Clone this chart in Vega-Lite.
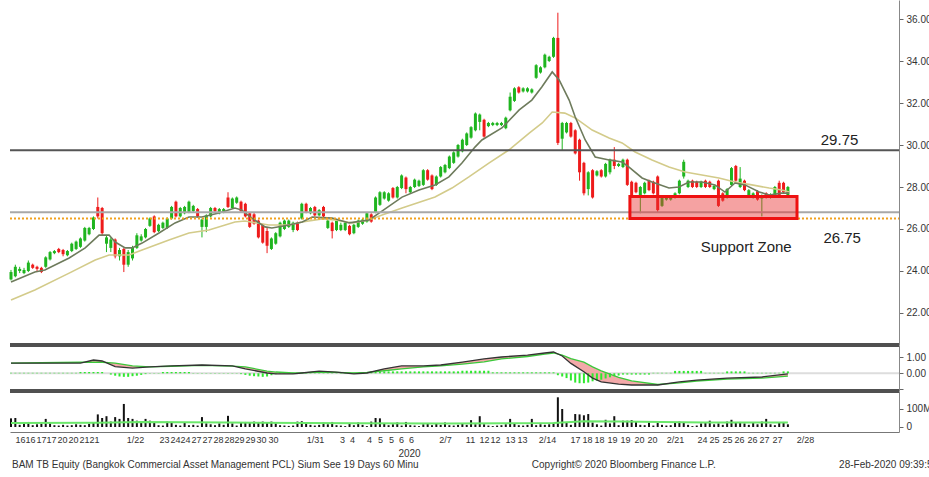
{
"$schema": "https://vega.github.io/schema/vega-lite/v6.json",
"padding": {"left": 6, "top": 0, "right": 0, "bottom": 0},
"background": "white",
"spacing": 26,
"bounds": "flush",
"config": {"view": {"stroke": null}, "axis": {"grid": false, "labelFont": "Liberation Sans", "titleFont": "Liberation Sans", "labelColor": "#333", "domainColor": "#888", "tickColor": "#666"}, "text": {"font": "Liberation Sans"}},
"resolve": {"scale": {"x": "independent", "y": "independent"}},
"datasets": {
"candles": [
{"i":0,"o":23.6,"h":24.05,"l":23.55,"c":23.95,"v":48,"mh":0.03},
{"i":1,"o":23.75,"h":24.3,"l":23.7,"c":24.2,"v":50,"mh":0.03},
{"i":2,"o":24.0,"h":24.2,"l":23.9,"c":24.1,"v":12,"mh":0.03},
{"i":3,"o":23.9,"h":24.15,"l":23.85,"c":24.05,"v":20,"mh":0.03},
{"i":4,"o":24.0,"h":24.5,"l":23.95,"c":24.4,"v":28,"mh":0.03},
{"i":5,"o":24.3,"h":24.35,"l":24.1,"c":24.15,"v":10,"mh":0.03},
{"i":6,"o":24.2,"h":24.25,"l":24.0,"c":24.1,"v":15,"mh":0.03},
{"i":7,"o":24.15,"h":24.2,"l":23.9,"c":23.95,"v":18,"mh":0.03},
{"i":8,"o":24.2,"h":24.7,"l":24.15,"c":24.65,"v":45,"mh":0.03},
{"i":9,"o":24.55,"h":24.95,"l":24.5,"c":24.9,"v":20,"mh":0.03},
{"i":10,"o":24.85,"h":25.0,"l":24.8,"c":24.95,"v":10,"mh":0.03},
{"i":11,"o":25.05,"h":25.1,"l":24.85,"c":24.9,"v":8,"mh":0.03},
{"i":12,"o":25.0,"h":25.05,"l":24.7,"c":24.8,"v":12,"mh":0.03},
{"i":13,"o":24.75,"h":25.0,"l":24.7,"c":24.95,"v":8,"mh":0.03},
{"i":14,"o":24.95,"h":25.35,"l":24.9,"c":25.3,"v":10,"mh":0.03},
{"i":15,"o":25.05,"h":25.45,"l":25.0,"c":25.4,"v":15,"mh":0.03},
{"i":16,"o":25.15,"h":25.6,"l":25.1,"c":25.55,"v":12,"mh":0.08},
{"i":17,"o":25.45,"h":26.1,"l":25.4,"c":26.05,"v":10,"mh":0.08},
{"i":18,"o":25.75,"h":26.1,"l":25.7,"c":26.05,"v":18,"mh":0.08},
{"i":19,"o":26.0,"h":26.6,"l":25.95,"c":26.55,"v":25,"mh":0.08},
{"i":20,"o":27.05,"h":27.5,"l":26.5,"c":26.6,"v":70,"mh":0.08},
{"i":21,"o":27.0,"h":27.05,"l":25.7,"c":25.8,"v":50,"mh":0.08},
{"i":22,"o":25.3,"h":25.7,"l":24.9,"c":25.6,"v":60,"mh":0.0},
{"i":23,"o":25.1,"h":25.6,"l":24.9,"c":25.5,"v":30,"mh":-0.08},
{"i":24,"o":25.5,"h":25.55,"l":24.6,"c":24.7,"v":55,"mh":-0.15},
{"i":25,"o":24.7,"h":25.1,"l":24.5,"c":25.0,"v":45,"mh":-0.2},
{"i":26,"o":25.05,"h":25.1,"l":23.95,"c":24.3,"v":128,"mh":-0.22},
{"i":27,"o":24.3,"h":25.0,"l":24.2,"c":24.9,"v":50,"mh":-0.22},
{"i":28,"o":24.6,"h":25.2,"l":24.5,"c":25.1,"v":45,"mh":-0.18},
{"i":29,"o":25.1,"h":25.8,"l":25.05,"c":25.7,"v":35,"mh":-0.15},
{"i":30,"o":25.45,"h":25.75,"l":25.4,"c":25.65,"v":25,"mh":-0.1},
{"i":31,"o":25.6,"h":26.05,"l":25.55,"c":26.0,"v":45,"mh":-0.05},
{"i":32,"o":26.15,"h":26.55,"l":26.1,"c":26.5,"v":35,"mh":0.02},
{"i":33,"o":26.6,"h":26.65,"l":25.8,"c":25.85,"v":25,"mh":0.02},
{"i":34,"o":25.9,"h":26.25,"l":25.85,"c":26.2,"v":10,"mh":0.02},
{"i":35,"o":26.05,"h":26.35,"l":26.0,"c":26.3,"v":8,"mh":0.08},
{"i":36,"o":26.05,"h":26.55,"l":26.0,"c":26.5,"v":30,"mh":0.08},
{"i":37,"o":26.5,"h":27.1,"l":26.45,"c":27.05,"v":28,"mh":0.08},
{"i":38,"o":27.3,"h":27.35,"l":26.55,"c":26.6,"v":12,"mh":0.08},
{"i":39,"o":26.6,"h":27.05,"l":26.55,"c":27.0,"v":8,"mh":0.08},
{"i":40,"o":26.75,"h":27.1,"l":26.7,"c":27.05,"v":25,"mh":0.08},
{"i":41,"o":26.8,"h":27.35,"l":26.75,"c":27.3,"v":10,"mh":0.08},
{"i":42,"o":26.85,"h":27.15,"l":26.8,"c":27.1,"v":12,"mh":0.02},
{"i":43,"o":26.95,"h":27.0,"l":26.55,"c":26.6,"v":8,"mh":0.02},
{"i":44,"o":26.1,"h":26.5,"l":25.6,"c":26.45,"v":55,"mh":0.02},
{"i":45,"o":26.1,"h":26.7,"l":25.85,"c":26.65,"v":20,"mh":0.02},
{"i":46,"o":26.6,"h":27.05,"l":26.55,"c":27.0,"v":15,"mh":0.02},
{"i":47,"o":27.0,"h":27.05,"l":26.8,"c":26.85,"v":10,"mh":0.02},
{"i":48,"o":26.75,"h":27.0,"l":26.7,"c":26.95,"v":20,"mh":0.02},
{"i":49,"o":26.8,"h":27.0,"l":26.75,"c":26.95,"v":12,"mh":0.02},
{"i":50,"o":27.5,"h":27.75,"l":27.0,"c":27.05,"v":62,"mh":0.02},
{"i":51,"o":27.0,"h":27.5,"l":26.95,"c":27.45,"v":20,"mh":0.02},
{"i":52,"o":27.25,"h":27.55,"l":27.2,"c":27.5,"v":8,"mh":0.02},
{"i":53,"o":27.3,"h":27.35,"l":26.8,"c":26.85,"v":25,"mh":-0.05},
{"i":54,"o":27.2,"h":27.25,"l":26.55,"c":26.6,"v":28,"mh":-0.1},
{"i":55,"o":26.75,"h":26.8,"l":26.05,"c":26.1,"v":25,"mh":-0.15},
{"i":56,"o":26.7,"h":26.8,"l":26.2,"c":26.25,"v":30,"mh":-0.18},
{"i":57,"o":26.4,"h":26.45,"l":25.55,"c":25.6,"v":28,"mh":-0.2},
{"i":58,"o":26.2,"h":26.25,"l":25.3,"c":25.35,"v":30,"mh":-0.22},
{"i":59,"o":25.9,"h":26.1,"l":24.85,"c":25.2,"v":25,"mh":-0.2},
{"i":60,"o":25.05,"h":25.6,"l":25.0,"c":25.55,"v":30,"mh":-0.12},
{"i":61,"o":25.3,"h":25.85,"l":25.25,"c":25.8,"v":20,"mh":-0.05},
{"i":62,"o":25.65,"h":26.35,"l":25.6,"c":26.3,"v":10,"mh":0.03},
{"i":63,"o":26.0,"h":26.45,"l":25.95,"c":26.4,"v":8,"mh":0.03},
{"i":64,"o":26.1,"h":26.45,"l":26.05,"c":26.4,"v":6,"mh":0.03},
{"i":65,"o":25.95,"h":26.35,"l":25.85,"c":26.3,"v":8,"mh":0.03},
{"i":66,"o":26.3,"h":26.35,"l":25.9,"c":25.95,"v":30,"mh":0.03},
{"i":67,"o":26.5,"h":27.25,"l":26.45,"c":27.2,"v":32,"mh":0.03},
{"i":68,"o":27.2,"h":27.25,"l":26.75,"c":26.8,"v":25,"mh":0.03},
{"i":69,"o":26.75,"h":27.05,"l":26.7,"c":27.0,"v":12,"mh":0.03},
{"i":70,"o":27.05,"h":27.1,"l":26.6,"c":26.65,"v":8,"mh":0.03},
{"i":71,"o":26.65,"h":26.95,"l":26.6,"c":26.9,"v":12,"mh":0.03},
{"i":72,"o":27.05,"h":27.1,"l":26.55,"c":26.6,"v":25,"mh":0.03},
{"i":73,"o":26.05,"h":26.45,"l":26.0,"c":26.4,"v":15,"mh":0.03},
{"i":74,"o":26.3,"h":26.35,"l":25.55,"c":25.9,"v":28,"mh":0.03},
{"i":75,"o":25.95,"h":26.45,"l":25.9,"c":26.4,"v":10,"mh":0.03},
{"i":76,"o":25.95,"h":26.3,"l":25.9,"c":26.2,"v":8,"mh":0.03},
{"i":77,"o":25.95,"h":26.35,"l":25.9,"c":26.3,"v":5,"mh":0.03},
{"i":78,"o":26.15,"h":26.2,"l":25.7,"c":25.75,"v":20,"mh":0.03},
{"i":79,"o":25.8,"h":26.25,"l":25.75,"c":26.2,"v":10,"mh":0.03},
{"i":80,"o":26.1,"h":26.45,"l":26.05,"c":26.4,"v":25,"mh":0.03},
{"i":81,"o":26.25,"h":26.5,"l":26.2,"c":26.45,"v":12,"mh":0.03},
{"i":82,"o":26.35,"h":26.8,"l":26.3,"c":26.75,"v":5,"mh":0.03},
{"i":83,"o":26.7,"h":26.75,"l":26.3,"c":26.35,"v":30,"mh":0.12},
{"i":84,"o":26.8,"h":27.55,"l":26.75,"c":27.5,"v":50,"mh":0.12},
{"i":85,"o":27.15,"h":27.8,"l":27.1,"c":27.75,"v":48,"mh":0.12},
{"i":86,"o":27.45,"h":27.8,"l":27.4,"c":27.75,"v":20,"mh":0.12},
{"i":87,"o":27.35,"h":27.75,"l":27.3,"c":27.7,"v":10,"mh":0.12},
{"i":88,"o":27.95,"h":28.0,"l":27.45,"c":27.5,"v":15,"mh":0.12},
{"i":89,"o":27.5,"h":28.05,"l":27.45,"c":28.0,"v":25,"mh":0.12},
{"i":90,"o":27.95,"h":28.6,"l":27.9,"c":28.55,"v":8,"mh":0.12},
{"i":91,"o":28.45,"h":28.5,"l":27.7,"c":27.9,"v":28,"mh":0.12},
{"i":92,"o":27.75,"h":28.05,"l":27.7,"c":28.0,"v":10,"mh":0.12},
{"i":93,"o":28.0,"h":28.4,"l":27.95,"c":28.35,"v":8,"mh":0.12},
{"i":94,"o":28.05,"h":28.35,"l":28.0,"c":28.3,"v":5,"mh":0.12},
{"i":95,"o":28.1,"h":28.85,"l":28.05,"c":28.8,"v":15,"mh":0.12},
{"i":96,"o":28.8,"h":28.85,"l":28.3,"c":28.35,"v":20,"mh":0.12},
{"i":97,"o":28.55,"h":28.6,"l":27.85,"c":27.9,"v":10,"mh":0.12},
{"i":98,"o":28.1,"h":28.55,"l":28.05,"c":28.5,"v":18,"mh":0.12},
{"i":99,"o":28.5,"h":29.0,"l":28.45,"c":28.95,"v":12,"mh":0.12},
{"i":100,"o":28.7,"h":29.1,"l":28.65,"c":29.05,"v":25,"mh":0.12},
{"i":101,"o":28.9,"h":29.5,"l":28.85,"c":29.45,"v":10,"mh":0.12},
{"i":102,"o":29.15,"h":29.7,"l":29.1,"c":29.65,"v":8,"mh":0.12},
{"i":103,"o":29.45,"h":30.05,"l":29.4,"c":30.0,"v":12,"mh":0.12},
{"i":104,"o":29.7,"h":30.3,"l":29.65,"c":30.25,"v":20,"mh":0.16},
{"i":105,"o":30.0,"h":30.6,"l":29.95,"c":30.55,"v":12,"mh":0.16},
{"i":106,"o":30.35,"h":30.9,"l":30.3,"c":30.85,"v":38,"mh":0.16},
{"i":107,"o":30.7,"h":31.55,"l":30.65,"c":31.5,"v":15,"mh":0.16},
{"i":108,"o":31.1,"h":31.5,"l":30.7,"c":31.45,"v":60,"mh":0.16},
{"i":109,"o":31.2,"h":31.25,"l":30.35,"c":30.4,"v":15,"mh":0.16},
{"i":110,"o":30.9,"h":31.1,"l":30.85,"c":31.05,"v":8,"mh":0.16},
{"i":111,"o":30.95,"h":31.1,"l":30.9,"c":31.05,"v":5,"mh":0.06},
{"i":112,"o":30.95,"h":31.1,"l":30.9,"c":31.05,"v":8,"mh":0.06},
{"i":113,"o":30.95,"h":31.1,"l":30.9,"c":31.05,"v":10,"mh":0.06},
{"i":114,"o":30.8,"h":31.35,"l":30.75,"c":31.3,"v":15,"mh":0.06},
{"i":115,"o":31.65,"h":32.5,"l":31.6,"c":32.3,"v":45,"mh":0.06},
{"i":116,"o":32.1,"h":32.75,"l":32.05,"c":32.7,"v":20,"mh":0.06},
{"i":117,"o":32.75,"h":32.8,"l":32.45,"c":32.5,"v":10,"mh":0.06},
{"i":118,"o":32.55,"h":32.75,"l":32.5,"c":32.7,"v":8,"mh":0.06},
{"i":119,"o":32.55,"h":32.75,"l":32.5,"c":32.7,"v":12,"mh":0.06},
{"i":120,"o":32.5,"h":32.7,"l":32.45,"c":32.65,"v":45,"mh":0.06},
{"i":121,"o":33.2,"h":33.85,"l":33.15,"c":33.8,"v":10,"mh":0.06},
{"i":122,"o":33.45,"h":33.75,"l":33.4,"c":33.7,"v":15,"mh":0.06},
{"i":123,"o":33.7,"h":34.35,"l":33.65,"c":34.3,"v":12,"mh":0.06},
{"i":124,"o":34.0,"h":34.25,"l":33.95,"c":34.2,"v":15,"mh":0.06},
{"i":125,"o":34.2,"h":35.15,"l":34.15,"c":35.1,"v":20,"mh":0.06},
{"i":126,"o":35.1,"h":36.3,"l":30.0,"c":30.1,"v":165,"mh":-0.12},
{"i":127,"o":30.3,"h":31.1,"l":29.75,"c":31.05,"v":100,"mh":-0.2},
{"i":128,"o":30.6,"h":31.1,"l":30.55,"c":31.05,"v":25,"mh":-0.3},
{"i":129,"o":31.05,"h":31.1,"l":30.35,"c":30.4,"v":12,"mh":-0.45},
{"i":130,"o":30.7,"h":30.75,"l":29.55,"c":29.6,"v":72,"mh":-0.58},
{"i":131,"o":30.25,"h":30.3,"l":28.3,"c":28.7,"v":70,"mh":-0.62},
{"i":132,"o":29.15,"h":29.2,"l":27.6,"c":27.7,"v":65,"mh":-0.62},
{"i":133,"o":27.9,"h":28.75,"l":27.6,"c":28.7,"v":72,"mh":-0.58},
{"i":134,"o":28.8,"h":28.85,"l":27.45,"c":27.5,"v":25,"mh":-0.5},
{"i":135,"o":28.55,"h":28.8,"l":28.5,"c":28.75,"v":15,"mh":-0.45},
{"i":136,"o":28.8,"h":28.85,"l":28.45,"c":28.5,"v":8,"mh":-0.4},
{"i":137,"o":28.5,"h":29.15,"l":28.45,"c":29.1,"v":40,"mh":-0.32},
{"i":138,"o":28.7,"h":29.35,"l":28.6,"c":29.3,"v":20,"mh":-0.25},
{"i":139,"o":29.3,"h":29.9,"l":28.85,"c":29.0,"v":60,"mh":-0.18},
{"i":140,"o":29.0,"h":29.15,"l":28.95,"c":29.1,"v":10,"mh":-0.14},
{"i":141,"o":28.95,"h":29.35,"l":28.9,"c":29.3,"v":35,"mh":-0.08},
{"i":142,"o":29.3,"h":29.35,"l":28.05,"c":28.1,"v":35,"mh":-0.08},
{"i":143,"o":28.25,"h":28.3,"l":27.55,"c":27.6,"v":38,"mh":-0.08},
{"i":144,"o":28.2,"h":28.25,"l":27.7,"c":27.75,"v":30,"mh":-0.08},
{"i":145,"o":27.5,"h":28.05,"l":26.75,"c":28.0,"v":12,"mh":-0.08},
{"i":146,"o":27.7,"h":28.25,"l":27.65,"c":28.2,"v":10,"mh":-0.08},
{"i":147,"o":28.3,"h":28.35,"l":27.8,"c":27.85,"v":25,"mh":-0.08},
{"i":148,"o":28.25,"h":28.3,"l":27.65,"c":27.7,"v":8,"mh":0.03},
{"i":149,"o":28.5,"h":28.55,"l":26.8,"c":26.9,"v":22,"mh":0.03},
{"i":150,"o":27.1,"h":27.6,"l":27.05,"c":27.55,"v":12,"mh":0.03},
{"i":151,"o":27.4,"h":27.6,"l":27.35,"c":27.55,"v":8,"mh":0.03},
{"i":152,"o":27.4,"h":27.6,"l":27.35,"c":27.55,"v":10,"mh":0.03},
{"i":153,"o":27.5,"h":27.75,"l":27.45,"c":27.7,"v":25,"mh":0.15},
{"i":154,"o":27.7,"h":28.35,"l":27.65,"c":28.3,"v":30,"mh":0.15},
{"i":155,"o":28.5,"h":29.3,"l":28.4,"c":29.2,"v":28,"mh":0.15},
{"i":156,"o":28.0,"h":28.35,"l":27.95,"c":28.3,"v":12,"mh":0.15},
{"i":157,"o":28.3,"h":28.35,"l":27.95,"c":28.0,"v":5,"mh":0.15},
{"i":158,"o":28.25,"h":28.3,"l":27.95,"c":28.0,"v":8,"mh":0.15},
{"i":159,"o":28.0,"h":28.3,"l":27.95,"c":28.25,"v":20,"mh":0.15},
{"i":160,"o":28.3,"h":28.35,"l":27.95,"c":28.0,"v":22,"mh":0.03},
{"i":161,"o":28.25,"h":28.3,"l":27.95,"c":28.0,"v":35,"mh":0.03},
{"i":162,"o":27.9,"h":28.1,"l":27.85,"c":28.05,"v":15,"mh":0.03},
{"i":163,"o":28.3,"h":28.35,"l":27.05,"c":27.1,"v":20,"mh":0.03},
{"i":164,"o":27.7,"h":27.75,"l":27.3,"c":27.35,"v":12,"mh":0.03},
{"i":165,"o":27.5,"h":27.95,"l":27.45,"c":27.9,"v":30,"mh":0.12},
{"i":166,"o":28.1,"h":28.95,"l":28.05,"c":28.9,"v":40,"mh":0.12},
{"i":167,"o":29.0,"h":29.05,"l":28.25,"c":28.3,"v":25,"mh":0.12},
{"i":168,"o":28.0,"h":28.95,"l":27.95,"c":28.4,"v":28,"mh":0.12},
{"i":169,"o":28.3,"h":28.35,"l":27.8,"c":27.85,"v":20,"mh":0.12},
{"i":170,"o":27.6,"h":27.9,"l":27.55,"c":27.85,"v":12,"mh":0.03},
{"i":171,"o":27.5,"h":27.75,"l":27.45,"c":27.7,"v":25,"mh":0.03},
{"i":172,"o":27.8,"h":27.85,"l":27.35,"c":27.4,"v":15,"mh":0.03},
{"i":173,"o":27.45,"h":27.65,"l":26.6,"c":27.6,"v":30,"mh":0.03},
{"i":174,"o":27.7,"h":27.75,"l":27.45,"c":27.5,"v":45,"mh":0.03},
{"i":175,"o":27.5,"h":27.7,"l":27.45,"c":27.65,"v":15,"mh":0.03},
{"i":176,"o":27.6,"h":28.05,"l":27.55,"c":28.0,"v":10,"mh":0.03},
{"i":177,"o":28.2,"h":28.3,"l":27.55,"c":27.6,"v":25,"mh":0.03},
{"i":178,"o":28.2,"h":28.25,"l":27.7,"c":27.75,"v":28,"mh":0.12},
{"i":179,"o":27.6,"h":28.05,"l":27.55,"c":28.0,"v":15,"mh":0.12}
],
"fast": [
{"i":0,"p":23.48},{"i":5.5,"p":23.95},{"i":7.8,"p":24.05},{"i":13.4,"p":24.62},{"i":17.1,"p":25.1},{"i":20.3,"p":25.71},{"i":22.6,"p":25.71},{"i":24.0,"p":25.38},{"i":26.3,"p":25.1},{"i":27.9,"p":25.1},{"i":30.2,"p":25.33},{"i":34.1,"p":25.81},{"i":37.8,"p":26.29},{"i":41.0,"p":26.57},{"i":44.0,"p":26.57},{"i":47.9,"p":26.76},{"i":51.6,"p":27.0},{"i":53.2,"p":26.9},{"i":55.5,"p":26.52},{"i":58.5,"p":26.1},{"i":60.1,"p":26.05},{"i":64.1,"p":26.19},{"i":67.1,"p":26.33},{"i":69.4,"p":26.57},{"i":74.0,"p":26.52},{"i":77.9,"p":26.29},{"i":82.5,"p":26.43},{"i":84.8,"p":26.76},{"i":90.1,"p":27.52},{"i":94.0,"p":27.86},{"i":97.7,"p":28.1},{"i":100.9,"p":28.48},{"i":103.9,"p":29.14},{"i":106.9,"p":29.9},{"i":108.5,"p":30.24},{"i":113.1,"p":30.81},{"i":117.1,"p":31.67},{"i":120.0,"p":32.14},{"i":122.3,"p":32.76},{"i":124.7,"p":33.48},{"i":126.3,"p":33.1},{"i":128.6,"p":32.14},{"i":130.0,"p":31.33},{"i":132.3,"p":30.24},{"i":134.6,"p":29.43},{"i":137.8,"p":29.29},{"i":140.8,"p":29.19},{"i":142.4,"p":28.95},{"i":145.4,"p":28.43},{"i":147.7,"p":28.24},{"i":151.6,"p":27.95},{"i":153.9,"p":28.0},{"i":156.2,"p":28.24},{"i":159.2,"p":28.24},{"i":162.2,"p":28.1},{"i":164.5,"p":27.76},{"i":166.8,"p":28.19},{"i":169.1,"p":28.1},{"i":172.4,"p":27.76},{"i":174.7,"p":27.62},{"i":177.6,"p":27.71},{"i":179.3,"p":27.71}
],
"slow": [
{"i":0,"p":22.62},{"i":5.5,"p":23.1},{"i":13.4,"p":23.9},{"i":19.4,"p":24.52},{"i":22.6,"p":24.76},{"i":27.2,"p":24.76},{"i":30.2,"p":25.0},{"i":36.4,"p":25.48},{"i":41.0,"p":25.81},{"i":45.6,"p":25.95},{"i":51.6,"p":26.33},{"i":53.9,"p":26.38},{"i":59.4,"p":26.19},{"i":64.1,"p":26.19},{"i":67.1,"p":26.33},{"i":71.7,"p":26.48},{"i":74.7,"p":26.43},{"i":78.6,"p":26.29},{"i":82.5,"p":26.43},{"i":85.5,"p":26.67},{"i":90.1,"p":27.0},{"i":97.7,"p":27.52},{"i":101.6,"p":27.95},{"i":105.5,"p":28.48},{"i":110.1,"p":29.14},{"i":114.7,"p":29.76},{"i":119.4,"p":30.57},{"i":122.4,"p":31.05},{"i":124.7,"p":31.57},{"i":127.6,"p":31.52},{"i":130.0,"p":31.29},{"i":133.9,"p":30.71},{"i":137.8,"p":30.33},{"i":140.8,"p":30.1},{"i":143.8,"p":29.67},{"i":147.7,"p":29.29},{"i":151.6,"p":28.95},{"i":155.3,"p":28.71},{"i":159.2,"p":28.57},{"i":163.1,"p":28.43},{"i":166.8,"p":28.24},{"i":170.7,"p":28.1},{"i":174.7,"p":27.95},{"i":177.6,"p":27.86},{"i":179.3,"p":27.76}
],
"macd": [
{"i":0,"m":0.64,"s":0.64},{"i":7,"m":0.64,"s":0.66},{"i":16,"m":0.64,"s":0.69},{"i":19,"m":0.83,"s":0.7},{"i":21,"m":0.77,"s":0.69},{"i":24,"m":0.42,"s":0.64},{"i":28,"m":0.33,"s":0.46},{"i":32,"m":0.4,"s":0.4},{"i":37,"m":0.46,"s":0.44},{"i":44,"m":0.52,"s":0.49},{"i":51,"m":0.46,"s":0.45},{"i":54,"m":0.28,"s":0.4},{"i":59,"m":0.02,"s":0.14},{"i":61,"m":-0.04,"s":0.08},{"i":65,"m":-0.04,"s":0.02},{"i":67,"m":0.02,"s":0.03},{"i":71,"m":0.14,"s":0.08},{"i":75,"m":0.08,"s":0.06},{"i":79,"m":-0.04,"s":0.02},{"i":82,"m":0.02,"s":0.06},{"i":86,"m":0.28,"s":0.16},{"i":90,"m":0.46,"s":0.28},{"i":95,"m":0.46,"s":0.4},{"i":99,"m":0.52,"s":0.46},{"i":104,"m":0.7,"s":0.58},{"i":109,"m":0.9,"s":0.72},{"i":113,"m":1.02,"s":0.9},{"i":119,"m":1.14,"s":1.05},{"i":123,"m":1.27,"s":1.2},{"i":125,"m":1.33,"s":1.27},{"i":127,"m":1.08,"s":1.14},{"i":129,"m":0.62,"s":0.92},{"i":132,"m":0.1,"s":0.7},{"i":134,"m":-0.3,"s":0.4},{"i":136,"m":-0.54,"s":0.15},{"i":140,"m":-0.67,"s":-0.25},{"i":143,"m":-0.73,"s":-0.48},{"i":149,"m":-0.73,"s":-0.7},{"i":154,"m":-0.54,"s":-0.6},{"i":158,"m":-0.42,"s":-0.48},{"i":165,"m":-0.3,"s":-0.36},{"i":173,"m":-0.23,"s":-0.3},{"i":179,"m":-0.04,"s":-0.17}
],
"vma": [
{"i":0,"v":22},{"i":20,"v":24},{"i":30,"v":28},{"i":50,"v":25},{"i":80,"v":21},{"i":100,"v":20},{"i":125,"v":22},{"i":132,"v":32},{"i":140,"v":30},{"i":160,"v":25},{"i":179,"v":25}
],
"span": [{"i": -0.23, "i2": 204.6}],
"zone": [{"i":142.6,"i2":181.1,"lo":26.5,"hi":27.55}],
"notes": [{"i":190.9,"p":30.0,"t":"29.75"},{"i":191.5,"p":25.33,"t":"26.75"}],
"zonelabel": [{"i":169.4,"p":24.9,"t":"Support Zone"}],
"footer": [
{"i":0.23,"t":"BAM TB Equity (Bangkok Commercial Asset Management PCL) Sium See 19 Days 60 Minu"},
{"i":120.0,"t":"Copyright© 2020 Bloomberg Finance L.P."},
{"i":190.8,"t":"28-Feb-2020 09:39:5"}
]
},
"vconcat": [
{
"width": 889,
"height": 432,
"encoding": {
"x": {"field": "i", "type": "quantitative",
"scale": {"domain": [-0.23, 204.6], "nice": false, "zero": false, "padding": 0},
"axis": {"orient": "bottom", "values": [2.07,4.38,6.91,9.22,11.75,14.29,16.82,19.12,28.57,35.25,37.79,40.09,42.63,45.16,47.7,50.23,52.53,55.07,57.6,60.37,70.05,76.27,78.57,82.49,85.02,87.56,89.86,92.17,100,105.76,108.99,111.52,114.98,117.74,123.5,129.95,132.72,135.48,138.48,141.47,144.7,147.7,152.99,159.22,161.98,164.98,167.74,170.74,173.5,176.5,182.95],
"labelExpr": "['16','16','17','17','20','20','21','21','1/22','23','24','24','27','27','28','28','29','29','30','30','1/31','3','4','4','5','5','6','6','2/7','11','12','12','13','13','2/14','17','18','18','19','19','20','20','2/21','24','25','25','26','26','27','27','2/28'][indexof([2.07,4.38,6.91,9.22,11.75,14.29,16.82,19.12,28.57,35.25,37.79,40.09,42.63,45.16,47.7,50.23,52.53,55.07,57.6,60.37,70.05,76.27,78.57,82.49,85.02,87.56,89.86,92.17,100,105.76,108.99,111.52,114.98,117.74,123.5,129.95,132.72,135.48,138.48,141.47,144.7,147.7,152.99,159.22,161.98,164.98,167.74,170.74,173.5,176.5,182.95], datum.value)]",
"labelOverlap": false, "labelFlush": false, "ticks": false, "labelPadding": 3, "labelFont": "Liberation Sans Narrow, Liberation Sans", "labelFontSize": 9, "labelColor": "#333", "domainColor": "#777",
"title": "2020", "titleX": 399, "titleY": 24, "titleAlign": "center", "titleBaseline": "alphabetic", "titleFont": "Liberation Sans Narrow, Liberation Sans", "titleFontSize": 10, "titleFontWeight": "normal", "titleColor": "#333"}}
},
"resolve": {"scale": {"y": "independent"}, "axis": {"y": "independent"}},
"layer": [
{
"layer": [
{"data": {"name": "candles"}, "mark": {"type": "rule", "strokeWidth": 1},
"encoding": {
"y": {"field": "l", "type": "quantitative", "scale": {"domain": [20.476, 36.905], "range": [345, 0], "nice": false, "zero": false, "padding": 0},
"axis": {"orient": "right", "title": null, "values": [22,24,26,28,30,32,34,36], "format": ".2f", "labelOverlap": false, "tickSize": 4, "labelPadding": 3, "labelFontSize": 10}},
"y2": {"field": "h"},
"color": {"condition": {"test": "datum.c >= datum.o", "value": "#1fb51f"}, "value": "#ee1b1b"}}},
{"data": {"name": "candles"}, "mark": {"type": "bar", "size": 3},
"encoding": {
"y": {"field": "o", "type": "quantitative", "scale": {"domain": [20.476, 36.905], "range": [345, 0], "nice": false, "zero": false, "padding": 0}},
"y2": {"field": "c"},
"color": {"condition": {"test": "datum.c >= datum.o", "value": "#1fb51f"}, "value": "#ee1b1b"}}},
{"data": {"name": "slow"}, "mark": {"type": "line", "color": "#d3cb8a", "strokeWidth": 1.6},
"encoding": {"y": {"field": "p", "type": "quantitative", "scale": {"domain": [20.476, 36.905], "range": [345, 0], "nice": false, "zero": false, "padding": 0}}}},
{"data": {"name": "fast"}, "mark": {"type": "line", "color": "#6e7b5c", "strokeWidth": 1.6},
"encoding": {"y": {"field": "p", "type": "quantitative", "scale": {"domain": [20.476, 36.905], "range": [345, 0], "nice": false, "zero": false, "padding": 0}}}},
{"data": {"name": "span"}, "mark": {"type": "rule", "color": "#555555", "strokeWidth": 2},
"encoding": {"x2": {"field": "i2"},
"y": {"datum": 29.75, "type": "quantitative", "scale": {"domain": [20.476, 36.905], "range": [345, 0], "nice": false, "zero": false, "padding": 0}}}},
{"data": {"name": "span"}, "mark": {"type": "rule", "color": "#a8a8a8", "strokeWidth": 2},
"encoding": {"x2": {"field": "i2"},
"y": {"datum": 26.8, "type": "quantitative", "scale": {"domain": [20.476, 36.905], "range": [345, 0], "nice": false, "zero": false, "padding": 0}}}},
{"data": {"name": "span"}, "mark": {"type": "rule", "color": "#f2a11e", "strokeWidth": 2, "strokeDash": [2, 2]},
"encoding": {"x2": {"field": "i2"},
"y": {"datum": 26.5, "type": "quantitative", "scale": {"domain": [20.476, 36.905], "range": [345, 0], "nice": false, "zero": false, "padding": 0}}}},
{"data": {"name": "zone"}, "mark": {"type": "rect", "fill": "#e83030", "fillOpacity": 0.45, "stroke": "#ee1111", "strokeWidth": 3},
"encoding": {"x2": {"field": "i2"},
"y": {"field": "lo", "type": "quantitative", "scale": {"domain": [20.476, 36.905], "range": [345, 0], "nice": false, "zero": false, "padding": 0}},
"y2": {"field": "hi"}}},
{"data": {"name": "notes"}, "mark": {"type": "text", "fontSize": 15, "color": "#222", "align": "center", "baseline": "alphabetic"},
"encoding": {"y": {"field": "p", "type": "quantitative", "scale": {"domain": [20.476, 36.905], "range": [345, 0], "nice": false, "zero": false, "padding": 0}}, "text": {"field": "t"}}},
{"data": {"name": "zonelabel"}, "mark": {"type": "text", "fontSize": 15, "color": "#222", "align": "center", "baseline": "alphabetic"},
"encoding": {"y": {"field": "p", "type": "quantitative", "scale": {"domain": [20.476, 36.905], "range": [345, 0], "nice": false, "zero": false, "padding": 0}}, "text": {"field": "t"}}}
]
},
{
"layer": [
{"data": {"name": "span"}, "mark": {"type": "rule", "color": "#dddddd", "strokeWidth": 2},
"encoding": {"x2": {"field": "i2"},
"y": {"datum": 0, "type": "quantitative", "scale": {"domain": [-1.106, 1.769], "range": [391, 345], "nice": false, "zero": false, "padding": 0},
"axis": {"orient": "right", "title": null, "values": [-1, 0, 1], "labelExpr": "datum.value == -1 ? '' : format(datum.value, '.2f')", "labelOverlap": false, "tickSize": 4, "labelPadding": 3, "labelFontSize": 10}}}},
{"data": {"name": "macd"}, "mark": {"type": "area", "color": "#f2a0a0", "opacity": 0.9},
"encoding": {"y": {"field": "m", "type": "quantitative", "scale": {"domain": [-1.106, 1.769], "range": [391, 345], "nice": false, "zero": false, "padding": 0}}, "y2": {"field": "s"}}},
{"data": {"name": "candles"}, "mark": {"type": "rule", "color": "#2ee82e", "strokeWidth": 2},
"encoding": {"y": {"field": "mh", "type": "quantitative", "scale": {"domain": [-1.106, 1.769], "range": [391, 345], "nice": false, "zero": false, "padding": 0}}, "y2": {"datum": 0}}},
{"data": {"name": "macd"}, "mark": {"type": "line", "color": "#3bc93b", "strokeWidth": 1.3},
"encoding": {"y": {"field": "s", "type": "quantitative", "scale": {"domain": [-1.106, 1.769], "range": [391, 345], "nice": false, "zero": false, "padding": 0}}}},
{"data": {"name": "macd"}, "mark": {"type": "line", "color": "#333333", "strokeWidth": 1.3},
"encoding": {"y": {"field": "m", "type": "quantitative", "scale": {"domain": [-1.106, 1.769], "range": [391, 345], "nice": false, "zero": false, "padding": 0}}}},
{"data": {"name": "span"}, "mark": {"type": "rule", "color": "#505050", "strokeWidth": 4},
"encoding": {"x2": {"field": "i2"},
"y": {"datum": 1.769, "type": "quantitative", "scale": {"domain": [-1.106, 1.769], "range": [391, 345], "nice": false, "zero": false, "padding": 0}}}}
]
},
{
"layer": [
{"data": {"name": "candles"}, "mark": {"type": "rule", "color": "#111111", "strokeWidth": 2},
"encoding": {"y": {"field": "v", "type": "quantitative", "scale": {"domain": [-27.8, 200], "range": [432, 391], "nice": false, "zero": false, "padding": 0},
"axis": {"orient": "right", "title": null, "values": [0, 100], "labelExpr": "datum.value == 0 ? '0' : '100M'", "labelOverlap": false, "tickSize": 4, "labelPadding": 3, "labelFontSize": 10}},
"y2": {"datum": 0}}},
{"data": {"name": "vma"}, "mark": {"type": "line", "color": "#6be86b", "strokeWidth": 2},
"encoding": {"y": {"field": "v", "type": "quantitative", "scale": {"domain": [-27.8, 200], "range": [432, 391], "nice": false, "zero": false, "padding": 0}}}},
{"data": {"name": "span"}, "mark": {"type": "rule", "color": "#505050", "strokeWidth": 4},
"encoding": {"x2": {"field": "i2"},
"y": {"datum": 200, "type": "quantitative", "scale": {"domain": [-27.8, 200], "range": [432, 391], "nice": false, "zero": false, "padding": 0}}}}
]
}
]
},
{
"width": 889,
"height": 14,
"data": {"name": "footer"},
"mark": {"type": "text", "align": "left", "baseline": "middle", "fontSize": 10, "color": "#333"},
"encoding": {
"x": {"field": "i", "type": "quantitative", "scale": {"domain": [-0.23, 204.6], "nice": false, "zero": false, "padding": 0}, "axis": null},
"text": {"field": "t"}
}
}
]
}
